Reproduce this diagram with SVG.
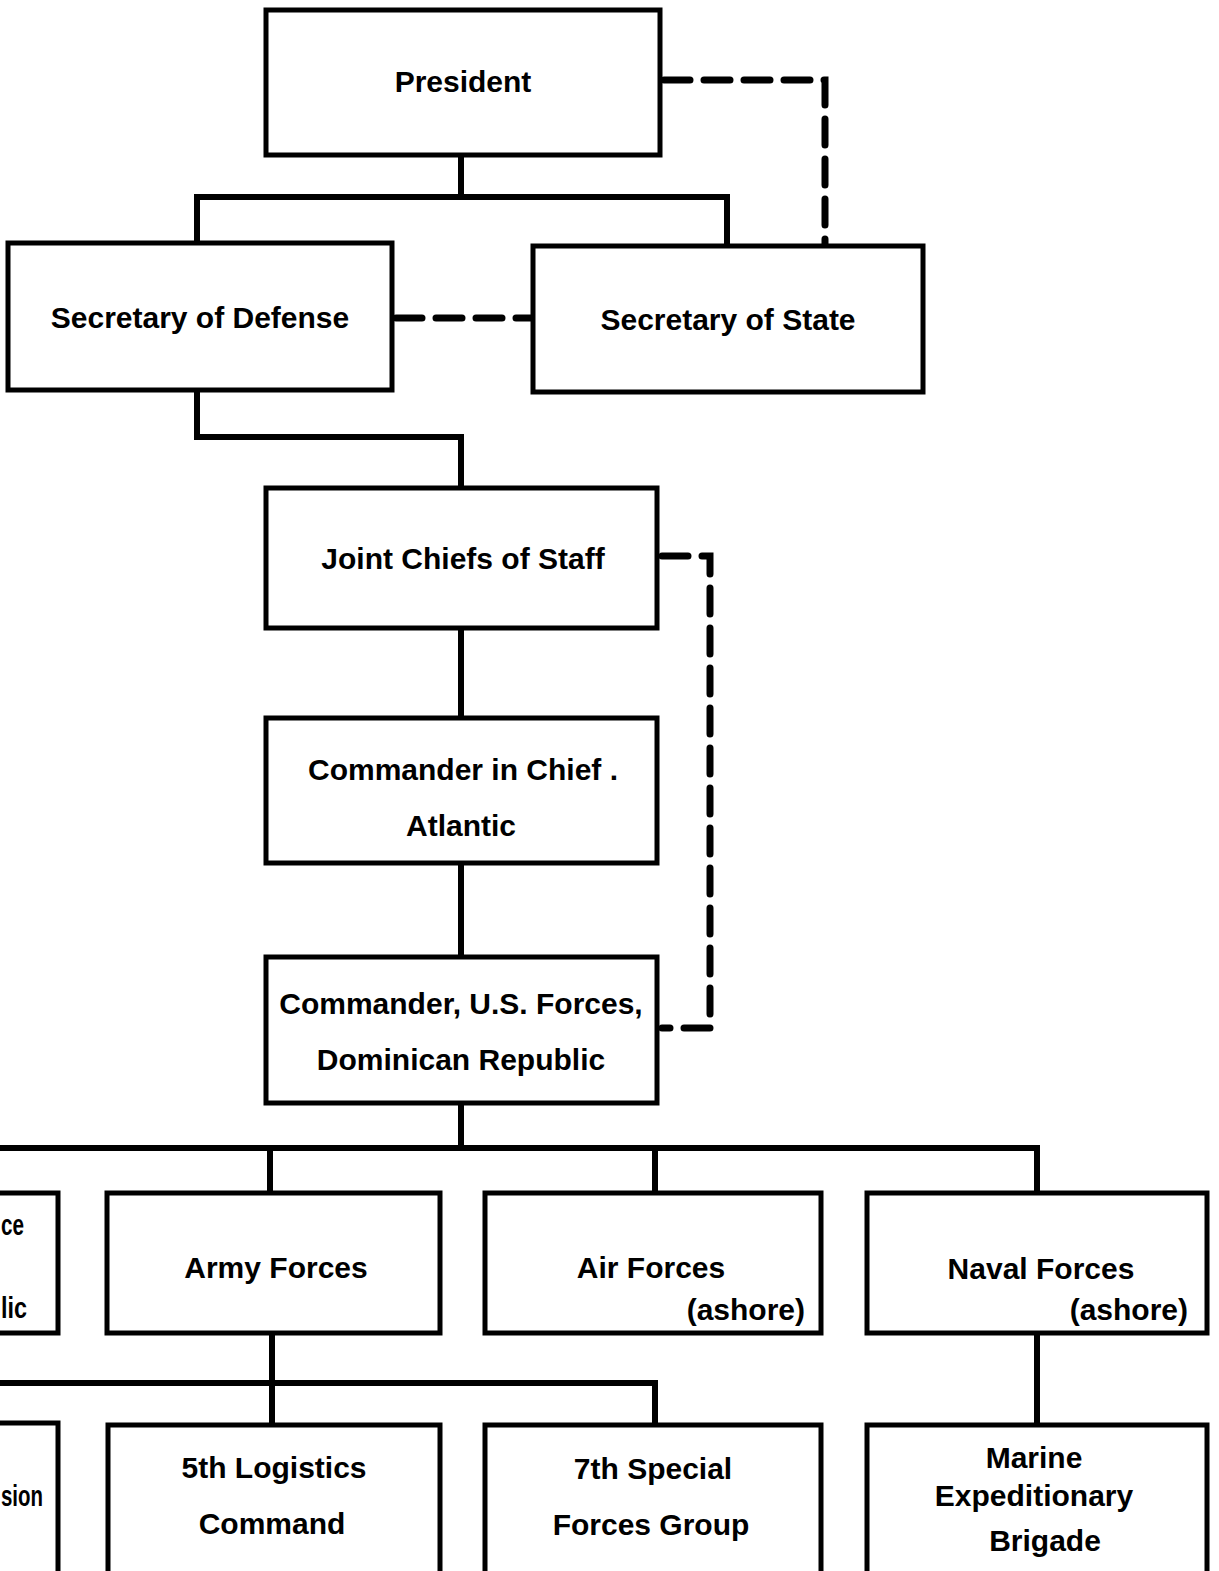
<svg xmlns="http://www.w3.org/2000/svg" width="1219" height="1571" viewBox="0 0 1219 1571">
<style>
.box{fill:#fff;stroke:#000;stroke-width:5}
.t{font-family:"Liberation Sans",Arial,sans-serif;font-weight:bold;font-size:30px;fill:#000;text-anchor:middle}
.r{text-anchor:end}
.s{text-anchor:start}
.ln{fill:none;stroke:#000;stroke-width:6}
.ds{fill:none;stroke:#000;stroke-width:7;stroke-dasharray:26,14;stroke-linecap:round}
</style>
<rect width="1219" height="1571" fill="#fff"/>
<g id="connectors">
<path class="ln" d="M461 155V197M197 243V197H727V246"/>
<path class="ln" d="M197 390V437H461V488"/>
<path class="ln" d="M461 628V718M461 863V957"/>
<path class="ln" d="M461 1103V1148M0 1148H1037V1193M270 1148V1193M655 1148V1193"/>
<path class="ln" d="M272 1333V1425M0 1383H655V1425"/>
<path class="ln" d="M1037 1333V1425"/>
<path class="ds" d="M664 80H825V244"/>
<path class="ds" d="M396 318H532"/>
<path class="ds" d="M662 556H710V1028H662"/>
</g>
<g id="president"><rect class="box" x="266" y="10" width="394" height="145"/><text class="t" x="463" y="92">President</text></g>
<g id="secdef"><rect class="box" x="8" y="243" width="384" height="147"/><text class="t" x="200" y="328">Secretary of Defense</text></g>
<g id="secstate"><rect class="box" x="533" y="246" width="390" height="146"/><text class="t" x="728" y="330">Secretary of State</text></g>
<g id="jcs"><rect class="box" x="266" y="488" width="391" height="140"/><text class="t" x="463" y="569">Joint Chiefs of Staff</text></g>
<g id="cinclant"><rect class="box" x="266" y="718" width="391" height="145"/><text class="t" x="463" y="780">Commander in Chief .</text><text class="t" x="461" y="836">Atlantic</text></g>
<g id="cusfdr"><rect class="box" x="266" y="957" width="391" height="146"/><text class="t" x="461" y="1014">Commander, U.S. Forces,</text><text class="t" x="461" y="1070">Dominican Republic</text></g>
<g id="leftbox1"><rect class="box" x="-10" y="1193" width="68" height="140"/><text class="t s" x="1" y="1235" textLength="23" lengthAdjust="spacingAndGlyphs">ce</text><text class="t s" x="1" y="1318" textLength="26" lengthAdjust="spacingAndGlyphs">lic</text></g>
<g id="army"><rect class="box" x="107" y="1193" width="333" height="140"/><text class="t" x="276" y="1278">Army Forces</text></g>
<g id="air"><rect class="box" x="485" y="1193" width="336" height="140"/><text class="t" x="651" y="1278">Air Forces</text><text class="t r" x="805" y="1320">(ashore)</text></g>
<g id="naval"><rect class="box" x="867" y="1193" width="340" height="140"/><text class="t" x="1041" y="1279">Naval Forces</text><text class="t r" x="1188" y="1320">(ashore)</text></g>
<g id="leftbox2"><rect class="box" x="-10" y="1423" width="68" height="160"/><text class="t s" x="1" y="1506" textLength="42" lengthAdjust="spacingAndGlyphs">sion</text></g>
<g id="logistics"><rect class="box" x="108" y="1425" width="332" height="160"/><text class="t" x="274" y="1478">5th Logistics</text><text class="t" x="272" y="1534">Command</text></g>
<g id="special"><rect class="box" x="485" y="1425" width="336" height="160"/><text class="t" x="653" y="1479">7th Special</text><text class="t" x="651" y="1535">Forces Group</text></g>
<g id="marine"><rect class="box" x="867" y="1425" width="340" height="160"/><text class="t" x="1034" y="1468">Marine</text><text class="t" x="1034" y="1506">Expeditionary</text><text class="t" x="1045" y="1551">Brigade</text></g>
</svg>
